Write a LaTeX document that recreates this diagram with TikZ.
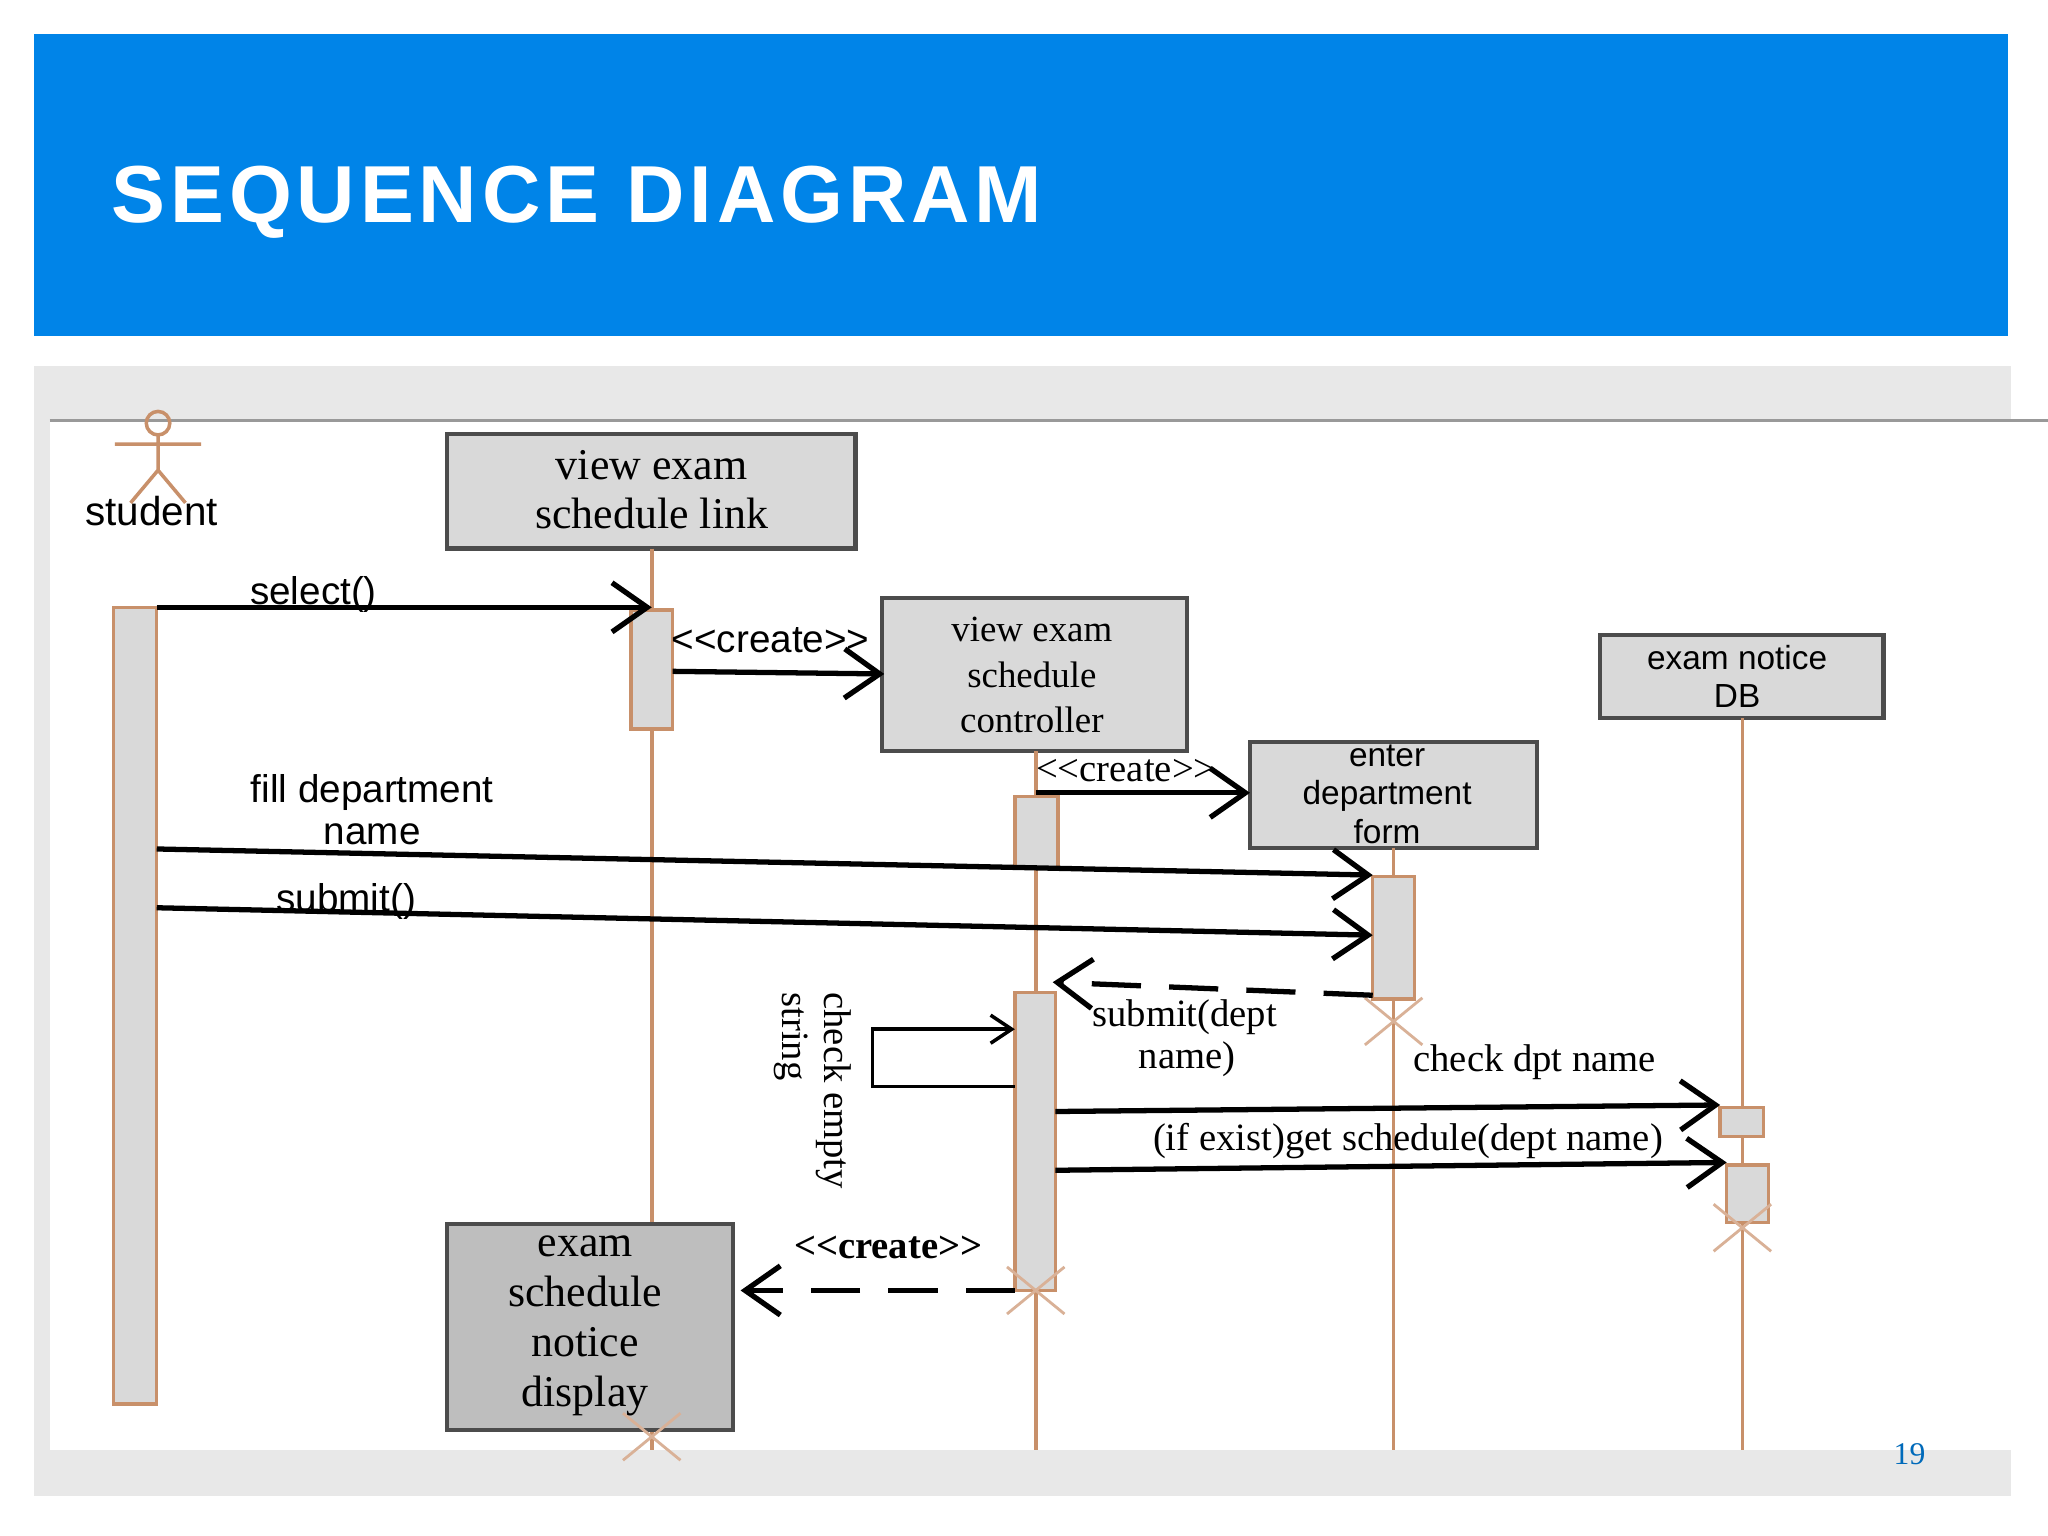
\documentclass[tikz,border=0pt]{standalone}
\usepackage{fontspec}
\setmainfont{Liberation Serif}
\newfontfamily\sansf{Liberation Sans}
\newfontfamily\titlef[LetterSpace=6]{Liberation Sans}
\usetikzlibrary{arrows.meta}
\definecolor{banner}{HTML}{0084E8}
\definecolor{panel}{HTML}{E8E8E8}
\definecolor{boxg}{HTML}{D9D9D9}
\definecolor{boxd}{HTML}{BEBEBE}
\definecolor{life}{HTML}{C8906A}
\begin{document}
\begin{tikzpicture}[x=0.01306cm,y=-0.01306cm,
 act/.style={draw=life,line width=1pt,fill=boxg},
 lifel/.style={draw=life,line width=1pt},
 msg/.style={line width=1.5pt,-{Straight Barb[length=10pt,width=14pt]}},
 ret/.style={msg,dashed,dash pattern=on 14pt off 8pt},
 lab/.style={font=\fontsize{11}{12}\selectfont\sansf},
 slab/.style={font=\fontsize{11}{12}\selectfont},
 xm/.style={draw=life!70,line width=0.8pt}]
\useasboundingbox (0,0) rectangle (1568,1176);
\fill[white] (0,0) rectangle (1568,1176);
\fill[banner] (26,26) rectangle (1537,257);
\node[anchor=west,text=white,font=\fontsize{23}{26}\selectfont\titlef\bfseries] (title) at (76,155) {SEQUENCE DIAGRAM};
\fill[panel] (26,280) rectangle (1540,1145);
\fill[white] (38,322) rectangle (1568,1110);
\draw[black!40,line width=0.8pt] (38,322) -- (1568,322);
\node[text=banner!80!black,font=\fontsize{9}{10}\selectfont] (pg) at (1462,1113) {19};
% actor
\begin{scope}[line width=1pt]
\draw[life] (121,324) circle (9);
\draw[life] (121,333) -- (121,360) (88,340) -- (154,340) (121,360) -- (100,385) (121,360) -- (142,385);
\end{scope}
\node[font=\fontsize{11.5}{12}\selectfont\sansf] (student) at (116,391) {student};
% objects
\path[draw=black!70,line width=1.2pt,fill=boxg] (342,332) rectangle (655,420);
\node[font=\fontsize{12.5}{14}\selectfont,align=center] (linkt) at (499,375) {view exam\\schedule link};
\path[draw=black!70,line width=1.2pt,fill=boxg] (675,458) rectangle (909,575);
\node[font=\fontsize{10.5}{13}\selectfont,align=center] (ctrl) at (790,517) {view exam\\schedule\\controller};
\path[draw=black!70,line width=1.2pt,fill=boxg] (957,568) rectangle (1177,649);
\node[font=\fontsize{9.5}{11}\selectfont\sansf,align=center] (form) at (1062,608) {enter\\department\\form};
\path[draw=black!70,line width=1.2pt,fill=boxg] (1225,486) rectangle (1442,550);
\node[font=\fontsize{9.5}{11}\selectfont\sansf,align=center] (db) at (1330,518) {exam notice\\DB};
% lifelines
\draw[lifel] (499,420) -- (499,937);
\draw[lifel] (793,575) -- (793,1110);
\draw[lifel] (1067,649) -- (1067,1110);
\draw[lifel] (1334,550) -- (1334,1110);
\draw[lifel] (499,1095) -- (499,1110);
\path[draw=black!70,line width=1.2pt,fill=boxd] (342,937) rectangle (561,1095);
\node[font=\fontsize{12.5}{14.2}\selectfont,align=center] (disp) at (448,1015) {exam\\schedule\\notice\\display};
% activations
\draw[act] (87,465) rectangle (120,1075);
\draw[act] (483,467) rectangle (515,558);
\draw[act] (777,610) rectangle (810,665);
\draw[act] (777,760) rectangle (808,988);
\draw[act] (1051,671) rectangle (1083,765);
\draw[act] (1317,848) rectangle (1350,870);
\draw[act] (1322,892) rectangle (1354,936);
% destroy marks
\foreach \cx/\cy in {793/988,1067/782,1334/940,499/1100}
 \draw[xm] (\cx-22,\cy-18) -- (\cx+22,\cy+18) (\cx-22,\cy+18) -- (\cx+22,\cy-18);
% coordinates
\coordinate (s1) at (120,465); \coordinate (e1) at (499,465);
\coordinate (s2) at (515,514); \coordinate (e2) at (677,516);
\coordinate (s3) at (793,607); \coordinate (e3) at (957,607);
\coordinate (s4) at (120,650); \coordinate (e4) at (1051,670);
\coordinate (s5) at (120,695); \coordinate (e5) at (1051,716);
\coordinate (s6) at (1051,762); \coordinate (e6) at (806,752);
\coordinate (s7) at (808,851); \coordinate (e7) at (1317,846);
\coordinate (s8) at (808,896); \coordinate (e8) at (1322,890);
\coordinate (s9) at (777,988); \coordinate (e9) at (567,988);
\draw[msg] (s1) -- (e1);
\draw[msg] (s2) -- (e2);
\draw[msg] (s3) -- (e3);
\draw[msg] (s4) -- (e4);
\draw[msg] (s5) -- (e5);
\draw[ret] (s6) -- (e6);
\draw[msg] (s7) -- (e7);
\draw[msg] (s8) -- (e8);
\draw[ret] (s9) -- (e9);
\draw[line width=1pt,-{Straight Barb[length=6pt,width=8pt]}] (777,832) -- (668,832) -- (668,788) -- (777,788);
% labels
\node[lab] (l1) at (240,455) {select()};
\node[lab] (l2) at (590,490) {<<create>>};
\node[slab] (l3) at (862,590) {{<}{<}create{>}{>}};
\node[lab,align=center] (l4) at (285,620) {fill department\\name};
\node[lab] (l5) at (265,690) {submit()};
\node[slab,align=left] (l6) at (907,795) {submit(dept\\\hspace{1.2em}name)};
\node[slab,rotate=-90,align=left] (l7) at (622,835) {check empty\\string};
\node[slab] (l8) at (1175,813) {check dpt name};
\node[slab] (l9) at (1078,874) {(if exist)get schedule(dept name)};
\node[slab,font=\fontsize{11}{12}\selectfont\bfseries] (l10) at (680,955) {{<}{<}create{>}{>}};
\end{tikzpicture}
\end{document}
